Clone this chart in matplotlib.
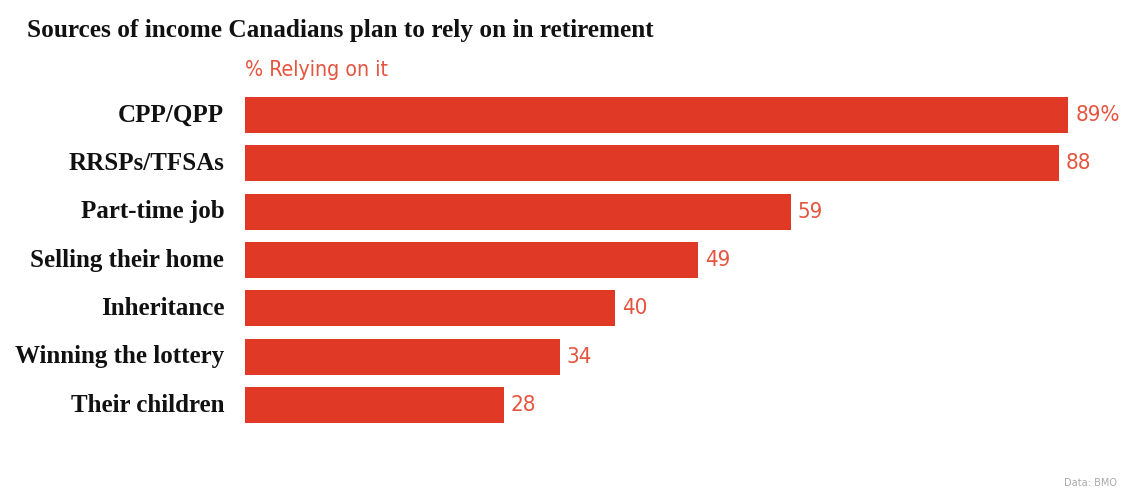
import matplotlib
matplotlib.use("Agg")
import matplotlib.pyplot as plt

categories = ["CPP/QPP", "RRSPs/TFSAs", "Part-time job", "Selling their home",
              "Inheritance", "Winning the lottery", "Their children"]
values = [89, 88, 59, 49, 40, 34, 28]
value_labels = ["89%", "88", "59", "49", "40", "34", "28"]

W, H = 1122, 492
fig = plt.figure(figsize=(W/100, H/100), dpi=100)
left_px, right_px = 245, 1110
top_px, bot_px = 90.8, 429.2
ax = fig.add_axes([left_px/W, 1-bot_px/H, (right_px-left_px)/W, (bot_px-top_px)/H])

bar_color = "#E03A26"
lab_color = "#E4553F"
ypos = list(range(len(categories)))
ax.barh(ypos, values, height=0.75, color=bar_color)
ax.set_xlim(0, (right_px-left_px)/9.25)
ax.set_ylim(len(categories)-0.5, -0.5)
ax.axis("off")

for y, v, lab, cat in zip(ypos, values, value_labels, categories):
    ax.annotate(lab, (v, y), xytext=(5, 0), textcoords="offset points",
                va="center", ha="left", fontsize=16, color=lab_color,
                family="DejaVu Sans", stretch="condensed")
    ax.annotate(cat, (0, y), xytext=(-15, 0), textcoords="offset points",
                va="center", ha="right", fontsize=18, fontweight="bold",
                family="Liberation Serif", color="#111111")

fig.text(27/W, 1-30/H, "Sources of income Canadians plan to rely on in retirement",
         fontsize=18.2, fontweight="bold", family="Liberation Serif",
         va="center", ha="left", color="#111111")
fig.text(245/W, 1-70/H, "% Relying on it", fontsize=15.3, color=lab_color,
         family="DejaVu Sans", stretch="condensed", va="center", ha="left")
fig.text(1117/W, 1-483/H, "Data: BMO", fontsize=7.8, color="#aaaaaa",
         family="DejaVu Sans", stretch="condensed", va="center", ha="right")

fig.savefig("out.png", dpi=100, facecolor="white")
